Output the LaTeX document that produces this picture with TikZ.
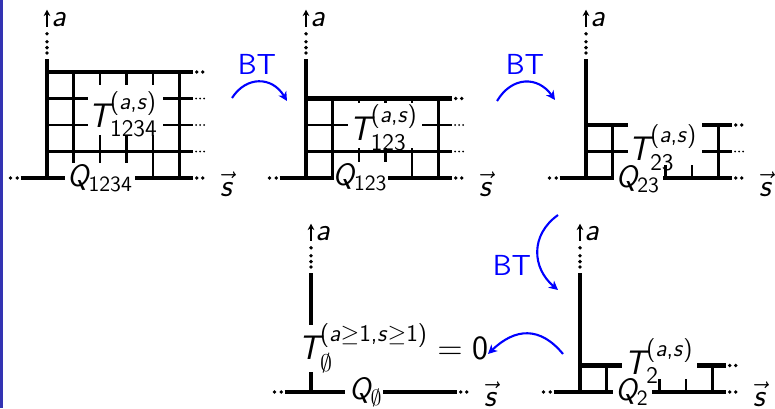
\documentclass[tikz,border=0pt]{standalone}
\usepackage{amsmath}
\usetikzlibrary{arrows.meta}
\definecolor{stripe}{rgb}{0.2,0.2,0.7}
\newcommand\sfi[1]{\textsf{\itshape #1}}
\newcommand\sfu[1]{\textsf{#1}}
\tikzset{
  thickln/.style={line width=2.45pt},
  thinln/.style={line width=1.05pt},
  cover/.style={fill=white},
  tlab/.style={inner sep=0pt, font=\fontsize{17}{20}\selectfont},
  qlab/.style={inner sep=0pt, font=\fontsize{15.5}{18}\selectfont},
  btlab/.style={inner sep=0pt, text=blue, font=\fontsize{14.5}{17}\selectfont\sffamily},
  btarrow/.style={blue, line width=1.05pt, -{Stealth[length=4.5pt,width=4.5pt,inset=1.3pt]}},
  axarrow/.style={line width=0.75pt, -{Stealth[length=3.2pt,width=3.4pt]}},
  axlab/.style={inner sep=0pt, font=\fontsize{16}{18}\selectfont},
}
\newcommand\axes[2]{%
  \draw[thickln] (-1,0) -- (5.5,0);
  \draw[thickln] (0,0) -- (0,4.5);
  \foreach \k in {0.15,0.38} \fill (5.5+\k,0) circle[radius=0.95pt];
  \foreach \k in {0.12,0.38} \fill (-1-\k,0) circle[radius=0.95pt];
  \foreach \k in {0.22,0.42,0.64,0.94} \fill (0,4.5+\k) circle[radius=0.95pt];
  \coordinate (#1lo) at (0,5.7);
  \coordinate (#1hi) at (0,6.35);
  \draw[axarrow] (#1lo) -- (#1hi);
  \node[axlab] (#1a) at (0.45,5.98) {\sfi{a}};
  \node[axlab] (#1s) at (6.75,#2) {$\vec{\sfi{s}}$};
}
\newcommand\thinrow[1]{%
  \draw[thinln] (0,#1) -- (5.5,#1);
  \foreach \k in {0.13,0.28,0.43} \fill (5.5+\k,#1) circle[radius=0.5pt];
}
\newcommand\thickrow[1]{%
  \draw[thickln] (0,#1) -- (5.5,#1);
  \foreach \k in {0.15,0.38} \fill (5.5+\k,#1) circle[radius=0.95pt];
}
\begin{document}
\begin{tikzpicture}[x=0.5pt,y=-0.5pt]
\useasboundingbox (0,0) rectangle (775,408);
\fill[stripe] (0,0) rectangle (2.5,408);

% figure 1
\begin{scope}[shift={(47,178)},x=13.25pt,y=13.25pt]
  \foreach \i in {1,...,5} \draw[thinln] (\i,0) -- (\i,4);
  \foreach \j in {1,2,3} {\thinrow{\j}}
  \thickrow{4}
  \axes{f1}{-0.25}
  \fill[cover] (1.55,1.62) rectangle (4.38,3.5);
  \fill[cover] (0.68,-0.6) rectangle (3.32,0.57);
  \node[tlab] (t1) at (2.87,2.4) {$\sfi{T}^{\sfu{(\textit{a},\textit{s})}}_{\sfu{1234}}$};
  \node[qlab] (q1) at (2,0) {$\sfi{Q}_{\sfu{1234}}$};
\end{scope}

% figure 2
\begin{scope}[shift={(306,178)},x=13.25pt,y=13.25pt]
  \foreach \i in {1,...,5} \draw[thinln] (\i,0) -- (\i,3);
  \foreach \j in {1,2} {\thinrow{\j}}
  \thickrow{3}
  \axes{f2}{-0.25}
  \fill[cover] (1.58,1.13) rectangle (4.38,2.83);
  \fill[cover] (1.05,-0.6) rectangle (3.1,0.6);
  \node[tlab] (t2) at (2.92,1.9) {$\sfi{T}^{\sfu{(\textit{a},\textit{s})}}_{\sfu{123}}$};
  \node[qlab] (q2) at (2.04,0.02) {$\sfi{Q}_{\sfu{123}}$};
\end{scope}

% figure 3
\begin{scope}[shift={(586,178)},x=13.25pt,y=13.25pt]
  \foreach \i in {1,...,5} \draw[thinln] (\i,0) -- (\i,2);
  \thinrow{1}
  \thickrow{2}
  \axes{f3}{-0.25}
  \fill[cover] (1.58,0.49) rectangle (4.38,2.15);
  \fill[cover] (1.05,-0.6) rectangle (2.9,0.49);
  \node[tlab] (t3) at (2.9,1.15) {$\sfi{T}^{\sfu{(\textit{a},\textit{s})}}_{\sfu{23}}$};
  \node[qlab] (q3) at (1.96,-0.04) {$\sfi{Q}_{\sfu{23}}$};
\end{scope}

% figure 4
\begin{scope}[shift={(580,392)},x=13.25pt,y=13.25pt]
  \foreach \i in {1,...,5} \draw[thinln] (\i,0) -- (\i,1);
  \thickrow{1}
  \axes{f4}{-0.1}
  \fill[cover] (1.58,0.49) rectangle (4.42,1.96);
  \fill[cover] (1.25,-0.6) rectangle (2.72,0.49);
  \node[tlab] (t4) at (2.98,1.17) {$\sfi{T}^{\sfu{(\textit{a},\textit{s})}}_{\sfu{2}}$};
  \node[qlab] (q4) at (1.96,0) {$\sfi{Q}_{\sfu{2}}$};
\end{scope}

% figure 5
\begin{scope}[shift={(311,392)},x=13.25pt,y=13.25pt]
  \axes{f5}{-0.1}
  \fill[cover] (-0.5,0.75) rectangle (1.2,2.53);
  \fill[cover] (1.28,-0.6) rectangle (2.72,0.6);
  \node[tlab] (t5) at (3.1,1.66) {$\sfi{T}^{\sfu{(\textit{a}$\geq$1,\textit{s}$\geq$1)}}_{\emptyset}=\sfu{0}$};
  \node[qlab] (q5) at (2.07,0) {$\sfi{Q}_{\emptyset}$};
\end{scope}

% BT arrows
\coordinate (a1s) at (232,98);  \coordinate (a1e) at (287,101);
\coordinate (a2s) at (497,101); \coordinate (a2e) at (555,100);
\coordinate (a3s) at (558,215); \coordinate (a3e) at (558,290);
\coordinate (a4s) at (563,354); \coordinate (a4e) at (488,354);
\draw[btarrow] (a1s) .. controls (246,76) and (272,76) .. (a1e);
\draw[btarrow] (a2s) .. controls (512,76) and (538,76) .. (a2e);
\draw[btarrow] (a3s) .. controls (530,235) and (532,268) .. (a3e);
\draw[btarrow] (a4s) .. controls (540,326) and (515,328) .. (a4e);
\node[btlab] (bt1) at (257,64) {BT};
\node[btlab] (bt2) at (525,64) {BT};
\node[btlab] (bt3) at (512,265) {BT};
\end{tikzpicture}
\end{document}
